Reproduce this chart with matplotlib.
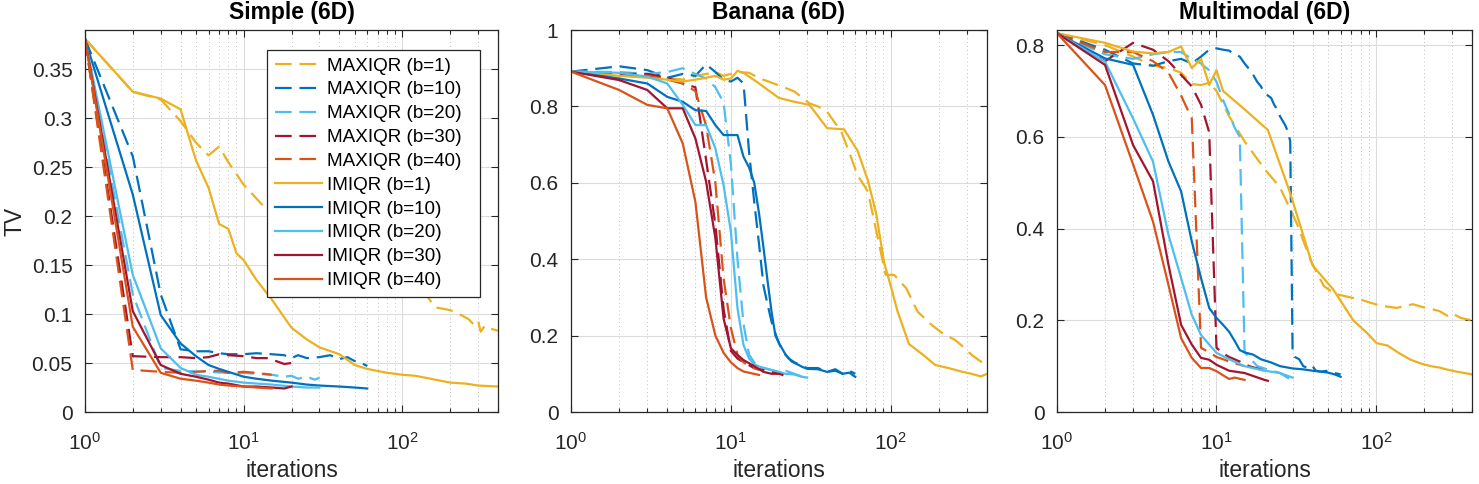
import numpy as np
import matplotlib
matplotlib.use("Agg")
import matplotlib.pyplot as plt
from matplotlib.ticker import LogLocator, NullFormatter, FixedLocator, FixedFormatter

plt.rcParams['font.family'] = ['Liberation Sans', 'DejaVu Sans']
plt.rcParams['mathtext.default'] = 'regular'

# ---- data: (iteration, TV) ----
# Simple (6D)
S_MAX1_X = [1, 2, 3, 4, 5, 6, 7, 8, 10, 13, 15, 20, 30, 50, 80, 120, 145, 160, 200, 234, 260, 283, 300, 311, 330, 360, 400]
S_MAX1_Y = [0.381, 0.327, 0.319, 0.297, 0.275, 0.262, 0.271, 0.255, 0.232, 0.212, 0.205, 0.195, 0.175, 0.155, 0.135, 0.122, 0.117, 0.107, 0.104, 0.099, 0.095, 0.089, 0.093, 0.082, 0.088, 0.085, 0.083]
S_MAX10_X = [1, 2, 3, 4, 5, 6, 7, 8, 10, 12, 15, 18, 20, 22, 25, 30, 35, 40, 45, 50, 55, 60]
S_MAX10_Y = [0.381, 0.261, 0.12, 0.064, 0.062, 0.062, 0.060, 0.059, 0.059, 0.060, 0.059, 0.058, 0.055, 0.058, 0.055, 0.056, 0.058, 0.054, 0.056, 0.052, 0.050, 0.047]
S_MAX20_X = [1, 2, 3, 4, 6, 8, 10, 12, 15, 18, 20, 22, 25, 28, 30]
S_MAX20_Y = [0.381, 0.12, 0.045, 0.042, 0.041, 0.040, 0.040, 0.039, 0.038, 0.036, 0.037, 0.034, 0.036, 0.033, 0.035]
S_MAX30_X = [1, 2, 3, 4, 5, 6, 7, 8, 10, 12, 14, 16, 18, 20]
S_MAX30_Y = [0.381, 0.057, 0.056, 0.056, 0.055, 0.056, 0.059, 0.058, 0.057, 0.055, 0.055, 0.052, 0.049, 0.050]
S_MAX40_X = [1, 2, 3, 4, 5, 6, 7, 8, 10, 12, 15]
S_MAX40_Y = [0.381, 0.043, 0.041, 0.040, 0.041, 0.042, 0.042, 0.040, 0.041, 0.040, 0.038]
S_IM1_X = [1, 2, 3, 4, 5, 6, 7, 8, 9, 10, 12, 15, 20, 25, 30, 40, 50, 60, 80, 100, 120, 150, 200, 250, 300, 400]
S_IM1_Y = [0.381, 0.327, 0.320, 0.309, 0.257, 0.229, 0.192, 0.187, 0.162, 0.155, 0.135, 0.115, 0.086, 0.074, 0.066, 0.059, 0.048, 0.044, 0.040, 0.038, 0.037, 0.034, 0.030, 0.029, 0.027, 0.026]
S_IM10_X = [1, 2, 3, 4, 5, 6, 7, 8, 10, 12, 15, 20, 25, 30, 40, 50, 60]
S_IM10_Y = [0.381, 0.222, 0.099, 0.070, 0.057, 0.048, 0.044, 0.041, 0.036, 0.034, 0.032, 0.030, 0.028, 0.027, 0.026, 0.025, 0.024]
S_IM20_X = [1, 2, 3, 4, 5, 6, 8, 10, 15, 20, 25, 30]
S_IM20_Y = [0.381, 0.140, 0.065, 0.045, 0.038, 0.036, 0.032, 0.030, 0.028, 0.026, 0.025, 0.025]
S_IM30_X = [1, 2, 3, 4, 5, 6, 7, 8, 10, 12, 15, 18, 20]
S_IM30_Y = [0.381, 0.103, 0.048, 0.039, 0.036, 0.033, 0.030, 0.029, 0.026, 0.026, 0.025, 0.024, 0.026]
S_IM40_X = [1, 2, 3, 4, 5, 6, 7, 8, 10, 12, 15]
S_IM40_Y = [0.381, 0.087, 0.040, 0.034, 0.032, 0.030, 0.028, 0.027, 0.026, 0.025, 0.024]

# Banana (6D)
B_MAX1_X = [1, 2, 3, 4, 5, 6, 7, 8, 9, 10, 11, 13, 15, 20, 25, 31, 35, 40, 49, 55, 62, 72, 83, 93, 105, 125, 147, 180, 217, 250, 276, 322, 366, 400]
B_MAX1_Y = [0.891, 0.885, 0.88, 0.875, 0.87, 0.88, 0.885, 0.89, 0.88, 0.885, 0.89, 0.888, 0.874, 0.855, 0.839, 0.808, 0.80, 0.786, 0.734, 0.68, 0.62, 0.577, 0.455, 0.359, 0.359, 0.324, 0.263, 0.228, 0.202, 0.19, 0.175, 0.149, 0.132, 0.123]
B_MAX10_X = [1, 2, 3, 4, 5, 6, 7, 8, 9, 10, 11, 12, 13, 14, 15, 16, 17, 18, 19, 20, 21, 23, 25, 28, 30, 35, 40, 45, 50, 55, 60]
B_MAX10_Y = [0.891, 0.905, 0.895, 0.875, 0.885, 0.88, 0.91, 0.89, 0.87, 0.865, 0.875, 0.86, 0.68, 0.55, 0.44, 0.33, 0.28, 0.235, 0.205, 0.18, 0.16, 0.14, 0.13, 0.12, 0.115, 0.115, 0.105, 0.112, 0.10, 0.108, 0.10]
B_MAX20_X = [1, 2, 3, 4, 5, 6, 7, 8, 9, 10, 11, 12, 13, 14, 15, 16, 17, 20, 22, 25, 28, 30]
B_MAX20_Y = [0.891, 0.89, 0.885, 0.89, 0.90, 0.885, 0.873, 0.85, 0.81, 0.65, 0.40, 0.23, 0.15, 0.13, 0.12, 0.115, 0.112, 0.105, 0.108, 0.10, 0.092, 0.095]
B_MAX30_X = [1, 2, 3, 4, 5, 6, 7, 8, 9, 10, 11, 12, 14, 16, 18, 20]
B_MAX30_Y = [0.891, 0.885, 0.885, 0.875, 0.86, 0.85, 0.66, 0.49, 0.27, 0.16, 0.14, 0.13, 0.115, 0.11, 0.105, 0.10]
B_MAX40_X = [1, 2, 3, 4, 5, 6, 7, 8, 9, 10, 11, 12, 13, 15]
B_MAX40_Y = [0.891, 0.88, 0.88, 0.87, 0.86, 0.84, 0.75, 0.60, 0.35, 0.22, 0.15, 0.13, 0.12, 0.11]
B_IM1_X = [1, 2, 3, 4, 5, 6, 7, 8, 9, 10, 11, 12, 15, 20, 25, 31, 40, 51, 62, 72, 81, 91, 100, 110, 130, 160, 190, 230, 276, 320, 366, 400]
B_IM1_Y = [0.891, 0.88, 0.875, 0.87, 0.865, 0.87, 0.875, 0.88, 0.87, 0.873, 0.893, 0.888, 0.86, 0.822, 0.812, 0.804, 0.743, 0.740, 0.684, 0.606, 0.52, 0.39, 0.33, 0.265, 0.178, 0.149, 0.123, 0.115, 0.106, 0.10, 0.093, 0.10]
B_IM10_X = [1, 2, 3, 4, 5, 6, 7, 8, 9, 10, 11, 12, 13, 14, 15, 16, 17, 18, 19, 20, 21, 22, 24, 26, 28, 30, 35, 40, 45, 50, 55, 60]
B_IM10_Y = [0.891, 0.873, 0.86, 0.825, 0.812, 0.79, 0.788, 0.751, 0.725, 0.725, 0.725, 0.668, 0.64, 0.60, 0.52, 0.43, 0.34, 0.26, 0.20, 0.18, 0.165, 0.15, 0.132, 0.125, 0.118, 0.113, 0.112, 0.105, 0.108, 0.10, 0.103, 0.092]
B_IM20_X = [1, 2, 3, 4, 5, 6, 7, 8, 9, 10, 11, 12, 13, 14, 15, 18, 20, 22, 25, 28, 30]
B_IM20_Y = [0.891, 0.888, 0.878, 0.86, 0.804, 0.751, 0.751, 0.69, 0.594, 0.472, 0.271, 0.175, 0.14, 0.125, 0.119, 0.11, 0.105, 0.10, 0.098, 0.092, 0.09]
B_IM30_X = [1, 2, 3, 4, 5, 6, 7, 8, 9, 10, 11, 12, 14, 16, 18, 20, 21]
B_IM30_Y = [0.891, 0.869, 0.843, 0.795, 0.795, 0.716, 0.603, 0.455, 0.245, 0.167, 0.149, 0.136, 0.12, 0.105, 0.10, 0.10, 0.097]
B_IM40_X = [1, 2, 3, 4, 5, 6, 7, 8, 9, 10, 11, 12, 15]
B_IM40_Y = [0.891, 0.843, 0.804, 0.795, 0.703, 0.55, 0.30, 0.20, 0.155, 0.13, 0.115, 0.106, 0.097]

# Multimodal (6D)
M_MAX1_X = [1, 2, 3, 4, 5, 6, 7, 8, 9, 10, 12, 15, 20, 25, 32, 39, 47, 55, 65, 80, 106, 135, 170, 200, 220, 250, 280, 300, 340, 400]
M_MAX1_Y = [0.826, 0.80, 0.775, 0.755, 0.75, 0.74, 0.715, 0.713, 0.718, 0.70, 0.645, 0.59, 0.53, 0.49, 0.41, 0.33, 0.275, 0.258, 0.252, 0.245, 0.232, 0.227, 0.235, 0.228, 0.225, 0.22, 0.21, 0.215, 0.205, 0.20]
M_MAX10_X = list(range(1, 32)) + [33, 35, 38, 40, 42, 45, 50, 55, 60]
M_MAX10_Y = [0.826, 0.79, 0.76, 0.755, 0.765, 0.77, 0.76, 0.775, 0.79, 0.793,
             0.79, 0.788, 0.78, 0.775, 0.76, 0.748, 0.735, 0.72, 0.71, 0.695,
             0.69, 0.685, 0.67, 0.66, 0.645, 0.635, 0.625, 0.612, 0.59, 0.13,
             0.12, 0.115, 0.10, 0.095, 0.10, 0.09, 0.088, 0.09, 0.085, 0.082]
M_MAX20_X = [1, 2, 3, 4, 5, 6, 7, 8, 9, 10, 11, 12, 13, 14, 15, 16, 18, 20, 25, 30]
M_MAX20_Y = [0.826, 0.78, 0.77, 0.78, 0.785, 0.785, 0.77, 0.76, 0.745, 0.72, 0.68, 0.65, 0.62, 0.60, 0.13, 0.12, 0.10, 0.095, 0.085, 0.068]
M_MAX30_X = [1, 2, 3, 4, 5, 6, 7, 8, 9, 10, 11, 12, 14, 16, 18, 20]
M_MAX30_Y = [0.826, 0.765, 0.805, 0.79, 0.765, 0.735, 0.71, 0.67, 0.61, 0.14, 0.128, 0.12, 0.11, 0.10, 0.095, 0.09]
M_MAX40_X = [1, 2, 3, 4, 5, 6, 7, 8, 9, 10, 11, 12, 15]
M_MAX40_Y = [0.826, 0.785, 0.785, 0.765, 0.74, 0.69, 0.64, 0.14, 0.13, 0.12, 0.115, 0.11, 0.10]
M_IM1_X = [1, 2, 3, 4, 5, 6, 7, 8, 9, 10, 11, 15, 21, 29, 40, 54, 72, 88, 101, 118, 140, 165, 190, 220, 250, 283, 320, 360, 400]
M_IM1_Y = [0.826, 0.805, 0.786, 0.782, 0.785, 0.797, 0.75, 0.77, 0.713, 0.745, 0.70, 0.66, 0.615, 0.477, 0.32, 0.267, 0.20, 0.172, 0.15, 0.145, 0.128, 0.114, 0.106, 0.10, 0.097, 0.092, 0.088, 0.085, 0.082]
M_IM10_X = [1, 2, 3, 4, 5, 6, 7, 8, 9, 10, 11, 12, 13, 14, 15, 17, 19, 22, 25, 30, 35, 40, 45, 50, 55, 60]
M_IM10_Y = [0.826, 0.771, 0.757, 0.648, 0.546, 0.481, 0.372, 0.292, 0.227, 0.205, 0.19, 0.175, 0.155, 0.135, 0.13, 0.125, 0.115, 0.108, 0.10, 0.095, 0.093, 0.09, 0.088, 0.086, 0.082, 0.077]
M_IM20_X = [1, 2, 3, 4, 5, 6, 7, 8, 9, 10, 12, 15, 20, 25, 30]
M_IM20_Y = [0.826, 0.764, 0.64, 0.546, 0.386, 0.292, 0.212, 0.168, 0.147, 0.129, 0.115, 0.10, 0.09, 0.085, 0.075]
M_IM30_X = [1, 2, 3, 4, 5, 6, 7, 8, 9, 10, 12, 15, 20, 21]
M_IM30_Y = [0.826, 0.757, 0.582, 0.503, 0.321, 0.19, 0.147, 0.118, 0.114, 0.103, 0.09, 0.085, 0.07, 0.068]
M_IM40_X = [1, 2, 3, 4, 5, 6, 7, 8, 9, 10, 11, 12, 13, 15]
M_IM40_Y = [0.826, 0.713, 0.54, 0.415, 0.277, 0.161, 0.118, 0.096, 0.096, 0.089, 0.08, 0.072, 0.075, 0.07]

batch_sizes = [1, 10, 20, 30, 40]
colors = ['#EDB120', '#0072BD', '#4DBEEE', '#A2142F', '#D95319']
titles = ['Simple (6D)', 'Banana (6D)', 'Multimodal (6D)']
ylims = [0.39, 1.0, 0.833]
yticks = [[0, 0.05, 0.1, 0.15, 0.2, 0.25, 0.3, 0.35],
          [0, 0.2, 0.4, 0.6, 0.8, 1],
          [0, 0.2, 0.4, 0.6, 0.8]]
ytick_labels = [['0', '0.05', '0.1', '0.15', '0.2', '0.25', '0.3', '0.35'],
                ['0', '0.2', '0.4', '0.6', '0.8', '1'],
                ['0', '0.2', '0.4', '0.6', '0.8']]

panels = [
    ([(S_MAX1_X, S_MAX1_Y), (S_MAX10_X, S_MAX10_Y), (S_MAX20_X, S_MAX20_Y), (S_MAX30_X, S_MAX30_Y), (S_MAX40_X, S_MAX40_Y)],
     [(S_IM1_X, S_IM1_Y), (S_IM10_X, S_IM10_Y), (S_IM20_X, S_IM20_Y), (S_IM30_X, S_IM30_Y), (S_IM40_X, S_IM40_Y)]),
    ([(B_MAX1_X, B_MAX1_Y), (B_MAX10_X, B_MAX10_Y), (B_MAX20_X, B_MAX20_Y), (B_MAX30_X, B_MAX30_Y), (B_MAX40_X, B_MAX40_Y)],
     [(B_IM1_X, B_IM1_Y), (B_IM10_X, B_IM10_Y), (B_IM20_X, B_IM20_Y), (B_IM30_X, B_IM30_Y), (B_IM40_X, B_IM40_Y)]),
    ([(M_MAX1_X, M_MAX1_Y), (M_MAX10_X, M_MAX10_Y), (M_MAX20_X, M_MAX20_Y), (M_MAX30_X, M_MAX30_Y), (M_MAX40_X, M_MAX40_Y)],
     [(M_IM1_X, M_IM1_Y), (M_IM10_X, M_IM10_Y), (M_IM20_X, M_IM20_Y), (M_IM30_X, M_IM30_Y), (M_IM40_X, M_IM40_Y)]),
]

fig = plt.figure(figsize=(14.79, 4.84), dpi=100)
lefts = [85 / 1479, 571 / 1479, 1057 / 1479]
widths = [413 / 1479, 416 / 1479, 415 / 1479]
axcol = '#262626'

for k in range(3):
    ax = fig.add_axes([lefts[k], 1 - 412 / 484, widths[k], 382 / 484])
    maxiqr, imiqr = panels[k]
    for (x, y), b, c in zip(maxiqr, batch_sizes, colors):
        ax.plot(x, y, '--', color=c, lw=1.6, dashes=(7.5, 3.5), label=f'MAXIQR (b={b})')
    for (x, y), b, c in zip(imiqr, batch_sizes, colors):
        ax.plot(x, y, '-', color=c, lw=1.6, label=f'IMIQR (b={b})')

    ax.set_xscale('log')
    ax.set_xlim(1, 400)
    ax.set_ylim(0, ylims[k])
    ax.xaxis.set_major_locator(LogLocator(base=10, numticks=5))
    ax.xaxis.set_minor_locator(LogLocator(base=10, subs=np.arange(2, 10), numticks=20))
    ax.xaxis.set_minor_formatter(NullFormatter())
    ax.yaxis.set_major_locator(FixedLocator(yticks[k]))
    ax.yaxis.set_major_formatter(FixedFormatter(ytick_labels[k]))

    ax.grid(True, which='major', color='#dcdcdc', lw=0.8, ls='-')
    ax.grid(True, which='minor', axis='x', color='#bdbdbd', lw=0.7, ls=(0, (1, 3)))
    ax.set_axisbelow(True)
    ax.tick_params(which='both', direction='in', top=True, right=True,
                   colors=axcol, labelsize=15, width=0.8)
    ax.tick_params(which='major', length=5)
    ax.tick_params(which='minor', length=3)
    ax.tick_params(axis='x', which='major', pad=14)
    ax.tick_params(axis='y', which='major', pad=9)
    for sp in ax.spines.values():
        sp.set_color(axcol)
        sp.set_linewidth(0.9)

    ax.set_title(titles[k], fontsize=16.5, fontweight='bold', pad=8)
    ax.set_xlabel('iterations', fontsize=16.5, color=axcol, labelpad=4)
    if k == 0:
        ax.set_ylabel('TV', fontsize=16.5, color=axcol, labelpad=4)
        leg = ax.legend(loc='upper left', bbox_to_anchor=(0.4407, 0.5, 0.515, 0.448),
                        mode='expand', borderaxespad=0,
                        fontsize=13.6, handlelength=2.5, handletextpad=0.3,
                        labelspacing=0.35, borderpad=0.4, fancybox=False,
                        framealpha=1, edgecolor=axcol)
        leg.get_frame().set_linewidth(0.9)

fig.savefig('out.png', dpi=100)
